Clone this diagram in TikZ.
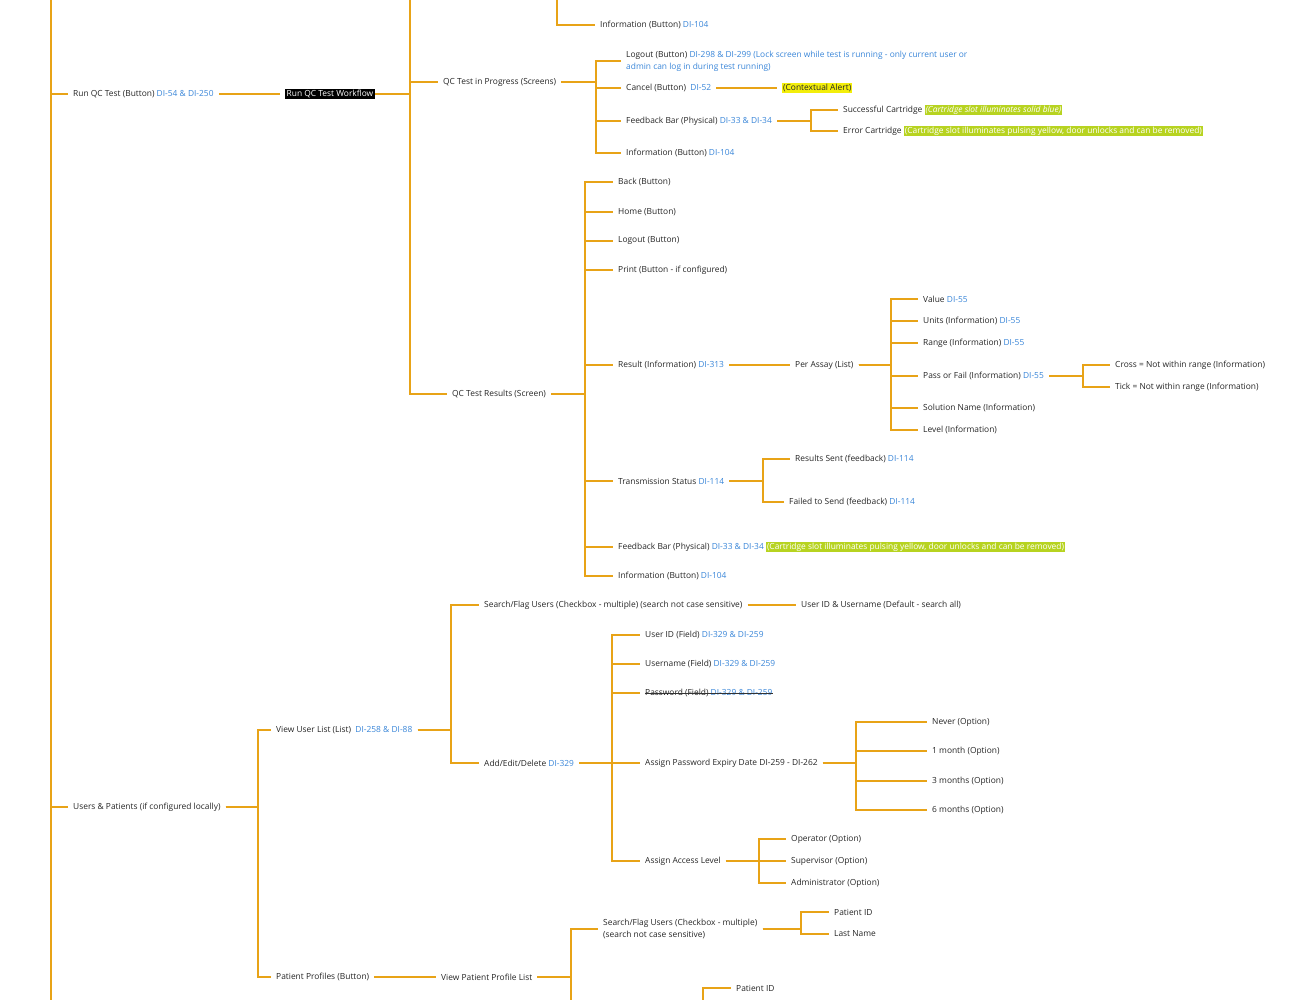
\documentclass[tikz,border=0pt]{standalone}
\usepackage{fontspec}
\setmainfont{Open Sans}
\definecolor{br}{HTML}{E8A317}
\definecolor{dblue}{HTML}{3A86D8}
\definecolor{hlg}{HTML}{B7D320}
\definecolor{hly}{HTML}{F3EE0A}
\newcommand\di[1]{\textcolor{dblue}{#1}}
\newcommand\gh[1]{{\setlength{\fboxsep}{1pt}\colorbox{hlg}{\textcolor{white}{#1}}}}
\newcommand\yh[1]{{\setlength{\fboxsep}{1pt}\colorbox{hly}{#1}}}
\newcommand\conn[3]{\draw[ln] (#1.east) -- (#1.east -| #2) |- (#3.west);}
\newcommand\lnk[2]{\draw[ln] (#1.east) -- (#2.west);}
\begin{document}
\begin{tikzpicture}[x=1pt,y=-1pt,
  t/.style={anchor=west,inner xsep=5pt,inner ysep=1pt,font=\fontsize{8.4}{12}\selectfont,text=black!85},
  ln/.style={draw=br,line width=1.2pt}]
\useasboundingbox (0,0) rectangle (1293,1000);
\begin{scope}
\clip (0,0) rectangle (1293,1000);
\coordinate (B51) at (51,0);
\coordinate (B410) at (410,0);
\coordinate (B557) at (557,0);
\coordinate (B596) at (596,0);
\coordinate (B811) at (811,0);
\coordinate (B585) at (585,0);
\coordinate (B891) at (891,0);
\coordinate (B1083) at (1083,0);
\coordinate (B763) at (763,0);
\coordinate (B258) at (258,0);
\coordinate (B451) at (451,0);
\coordinate (B612) at (612,0);
\coordinate (B856) at (856,0);
\coordinate (B759) at (759,0);
\coordinate (B571) at (571,0);
\coordinate (B801) at (801,0);
\coordinate (B703) at (703,0);

% root
\node[t] (run) at (68,94) {Run QC Test (Button) \di{DI-54 \& DI-250}};
\node[t] (up) at (68,807) {Users \& Patients (if configured locally)};
\draw[ln] (51,-5) -- (51,1005);
\draw[ln] (51,94) -- (run.west);
\draw[ln] (51,807) -- (up.west);

\node[t,fill=black,text=white,inner xsep=1.5pt] (wf) at (285,94) {Run QC Test Workflow};
\draw[ln] (run.east) -- ([xshift=-5pt]wf.west);

\node[t] (prog) at (438,82) {QC Test in Progress (Screens)};
\node[t] (res) at (447,394) {QC Test Results (Screen)};
\draw[ln] (wf.east) -- (wf.east -| B410);
\draw[ln] (410,-5) |- (res.west);
\draw[ln] (410,82) -- (prog.west);

\node[t] (topfb) at (595,-6) {Feedback Bar (Physical) \di{DI-33 \& DI-34}\hspace{2pt}\gh{\textit{(Cartridge slot illuminates solid blue)}}};
\node[t] (info0) at (595,25) {Information (Button) \di{DI-104}};
\draw[ln] (557,-5) |- (info0.west);

\node[t,align=left] (lo) at (621,61) {Logout (Button) \di{DI-298 \& DI-299 (Lock screen while test is running - only current user or}\\\di{admin can log in during test running)}};
\node[t] (can) at (621,88) {Cancel (Button) \ \di{DI-52}};
\node[t,inner xsep=0pt] (ca) at (782,88) {\yh{(Contextual Alert)}};
\node[t] (fb1) at (621,121) {Feedback Bar (Physical) \di{DI-33 \& DI-34}};
\node[t] (inf1) at (621,153) {Information (Button) \di{DI-104}};
\conn{prog}{B596}{lo}
\conn{prog}{B596}{can}
\conn{prog}{B596}{fb1}
\conn{prog}{B596}{inf1}
\draw[ln] (can.east) -- ([xshift=-5pt]ca.west);
\node[t] (sc) at (838,110) {Successful Cartridge \gh{\textit{(Cartridge slot illuminates solid blue)}}};
\node[t] (ec) at (838,131) {Error Cartridge \gh{(Cartridge slot illuminates pulsing yellow, door unlocks and can be removed)}};
\conn{fb1}{B811}{sc}
\conn{fb1}{B811}{ec}

\node[t] (back) at (613,182) {Back (Button)};
\node[t] (home) at (613,212) {Home (Button)};
\node[t] (lo2) at (613,241) {Logout (Button)};
\node[t] (pr) at (613,270) {Print (Button - if configured)};
\node[t] (rs) at (613,365) {Result (Information) \di{DI-313}};
\node[t] (ts) at (613,481) {Transmission Status \di{DI-114}};
\node[t] (fb2) at (613,547) {Feedback Bar (Physical) \di{DI-33 \& DI-34} \gh{(Cartridge slot illuminates pulsing yellow, door unlocks and can be removed)}};
\node[t] (inf2) at (613,576) {Information (Button) \di{DI-104}};
\foreach \c in {back,home,lo2,pr,rs,ts,fb2,inf2}{\conn{res}{B585}{\c}}

\node[t] (pa) at (790,365) {Per Assay (List)};
\lnk{rs}{pa}
\node[t] (val) at (918,299) {Value \di{DI-55}};
\node[t] (uni) at (918,321) {Units (Information) \di{DI-55}};
\node[t] (ran) at (918,343) {Range (Information) \di{DI-55}};
\node[t] (pf) at (918,376) {Pass or Fail (Information) \di{DI-55}};
\node[t] (sol) at (918,408) {Solution Name (Information)};
\node[t] (lev) at (918,430) {Level (Information)};
\foreach \c in {val,uni,ran,pf,sol,lev}{\conn{pa}{B891}{\c}}
\node[t] (cr) at (1110,365) {Cross = Not within range (Information)};
\node[t] (ti) at (1110,387) {Tick = Not within range (Information)};
\conn{pf}{B1083}{cr}
\conn{pf}{B1083}{ti}
\node[t] (rsent) at (790,459) {Results Sent (feedback) \di{DI-114}};
\node[t] (fsend) at (784,502) {Failed to Send (feedback) \di{DI-114}};
\conn{ts}{B763}{rsent}
\conn{ts}{B763}{fsend}

\node[t] (vul) at (271,730) {View User List (List) \ \di{DI-258 \& DI-88}};
\node[t] (pp) at (271,977) {Patient Profiles (Button)};
\conn{up}{B258}{vul}
\conn{up}{B258}{pp}
\node[t] (sfu) at (479,605) {Search/Flag Users (Checkbox - multiple) (search not case sensitive)};
\node[t] (aed) at (479,763) {Add/Edit/Delete \di{DI-329}};
\conn{vul}{B451}{sfu}
\conn{vul}{B451}{aed}
\node[t] (uidu) at (796,605) {User ID \& Username (Default - search all)};
\lnk{sfu}{uidu}
\node[t] (uid) at (640,635) {User ID (Field) \di{DI-329 \& DI-259}};
\node[t] (un) at (640,664) {Username (Field) \di{DI-329 \& DI-259}};
\node[t] (pw) at (640,693) {Password (Field) \di{DI-329 \& DI-259}};
\draw[black!80,line width=0.5pt] ([xshift=5pt,yshift=-0.5pt]pw.west) -- ([xshift=-5pt,yshift=-0.5pt]pw.east);
\node[t] (ape) at (640,763) {Assign Password Expiry Date DI-259 - DI-262};
\node[t] (aal) at (640,861) {Assign Access Level};
\foreach \c in {uid,un,pw,ape,aal}{\conn{aed}{B612}{\c}}
\node[t] (nev) at (927,722) {Never (Option)};
\node[t] (m1) at (927,751) {1 month (Option)};
\node[t] (m3) at (927,781) {3 months (Option)};
\node[t] (m6) at (927,810) {6 months (Option)};
\foreach \c in {nev,m1,m3,m6}{\conn{ape}{B856}{\c}}
\node[t] (op) at (786,839) {Operator (Option)};
\node[t] (sup) at (786,861) {Supervisor (Option)};
\node[t] (adm) at (786,883) {Administrator (Option)};
\foreach \c in {op,sup,adm}{\conn{aal}{B759}{\c}}

\node[t] (vpp) at (436,977) {View Patient Profile List};
\lnk{pp}{vpp}
\node[t,align=left] (sfp) at (598,929) {Search/Flag Users (Checkbox - multiple)\\(search not case sensitive)};
\conn{vpp}{B571}{sfp}
\draw[ln] (vpp.east -| B571) -- (571,1005);
\node[t] (pid) at (829,912) {Patient ID};
\node[t] (lnm) at (829,934) {Last Name};
\conn{sfp}{B801}{pid}
\conn{sfp}{B801}{lnm}
\node[t] (pid2) at (731,988) {Patient ID};
\draw[ln] (703,1005) |- (pid2.west);
\end{scope}
\end{tikzpicture}
\end{document}
